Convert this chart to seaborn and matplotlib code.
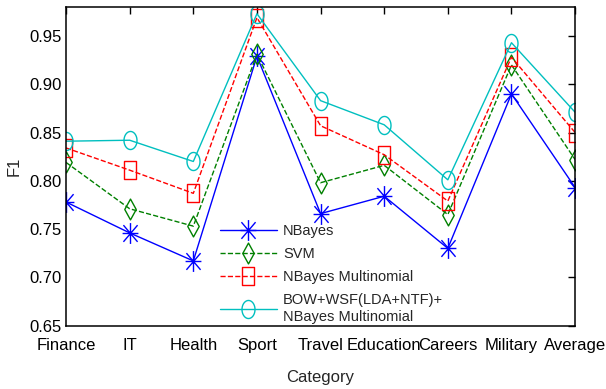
import numpy as np
import pandas as pd
import matplotlib
matplotlib.use("Agg")
import matplotlib.pyplot as plt
from matplotlib.path import Path
import seaborn as sns

categories = ["Finance", "IT", "Health", "Sport", "Travel", "Education",
              "Careers", "Military", "Average"]
nbayes = [0.778, 0.746, 0.717, 0.929, 0.766, 0.784, 0.730, 0.890, 0.793]
svm = [0.819, 0.771, 0.753, 0.931, 0.798, 0.816, 0.765, 0.920, 0.822]
nb_multi = [0.834, 0.811, 0.787, 0.969, 0.857, 0.827, 0.779, 0.928, 0.850]
bow_wsf = [0.841, 0.842, 0.820, 0.973, 0.883, 0.858, 0.801, 0.943, 0.871]
series_names = ["NBayes", "SVM", "NBayes Multinomial",
                "BOW+WSF(LDA+NTF)+\nNBayes Multinomial"]
yticks = [0.65, 0.70, 0.75, 0.80, 0.85, 0.90, 0.95]

sns.set_theme(style="white")
plt.rcParams["font.family"] = ["Liberation Sans", "DejaVu Sans"]

# tall marker shapes
t = np.linspace(0, 2 * np.pi, 40)
ellipse = Path(np.column_stack([0.36 * np.cos(t), 0.5 * np.sin(t)]), closed=True)
rect = Path([(-0.34, -0.5), (0.34, -0.5), (0.34, 0.5), (-0.34, 0.5), (-0.34, -0.5)],
            closed=True)
diamond = Path([(0, 1), (0.55, 0), (0, -1), (-0.55, 0), (0, 1)], closed=True)
a = 0.5
asterisk = Path([(0, -a), (0, a), (-0.38, 0), (0.38, 0),
                 (-0.34, -0.4), (0.34, 0.4), (-0.34, 0.4), (0.34, -0.4)],
                [Path.MOVETO, Path.LINETO] * 4)

styles = [
    dict(color="#0000ff", ls="-", marker=asterisk, ms=15),
    dict(color="#008000", ls="--", marker=diamond, ms=15),
    dict(color="#ff0000", ls="--", marker=rect, ms=13),
    dict(color="#00bfbf", ls="-", marker=ellipse, ms=13),
]

fig = plt.figure(figsize=(6.06, 3.89), dpi=100)
ax = fig.add_axes([0.109, 0.163, 0.840, 0.819])

x = np.arange(1, len(categories) + 1)
for vals, name, st in zip([nbayes, svm, nb_multi, bow_wsf], series_names, styles):
    df = pd.DataFrame({"x": x, "y": vals})
    sns.lineplot(data=df, x="x", y="y", ax=ax, color=st["color"],
                 linestyle=st["ls"], linewidth=1.0, marker=st["marker"],
                 markersize=st["ms"], markerfacecolor="none",
                 markeredgecolor=st["color"], markeredgewidth=1.0,
                 label=name)

ax.set_xlim(1, 9)
ax.set_ylim(0.65, 0.98)
ax.set_xticks(x)
ax.set_xticklabels(categories)
ax.set_yticks(yticks)
ax.set_yticklabels([f"{v:.2f}" for v in yticks])
ax.set_xlabel("Category", fontsize=12, labelpad=12)
ax.set_ylabel("F1", fontsize=12, labelpad=6)
ax.tick_params(axis="x", pad=9)
ax.tick_params(axis="y", pad=3)
ax.tick_params(axis="both", direction="in", length=5, width=1,
               top=True, right=True, labelsize=12, colors="black")
for sp in ax.spines.values():
    sp.set_color("black")
    sp.set_linewidth(1.1)
ax.grid(False)

leg = ax.legend(loc="upper left", bbox_to_anchor=(0.302, 0.318), frameon=False,
                fontsize=10.5, handlelength=3.9, handletextpad=0.45,
                labelspacing=0.6, borderaxespad=0, borderpad=0)
for txt in leg.get_texts():
    txt.set_linespacing(1.35)

fig.savefig("out.png", dpi=100)
